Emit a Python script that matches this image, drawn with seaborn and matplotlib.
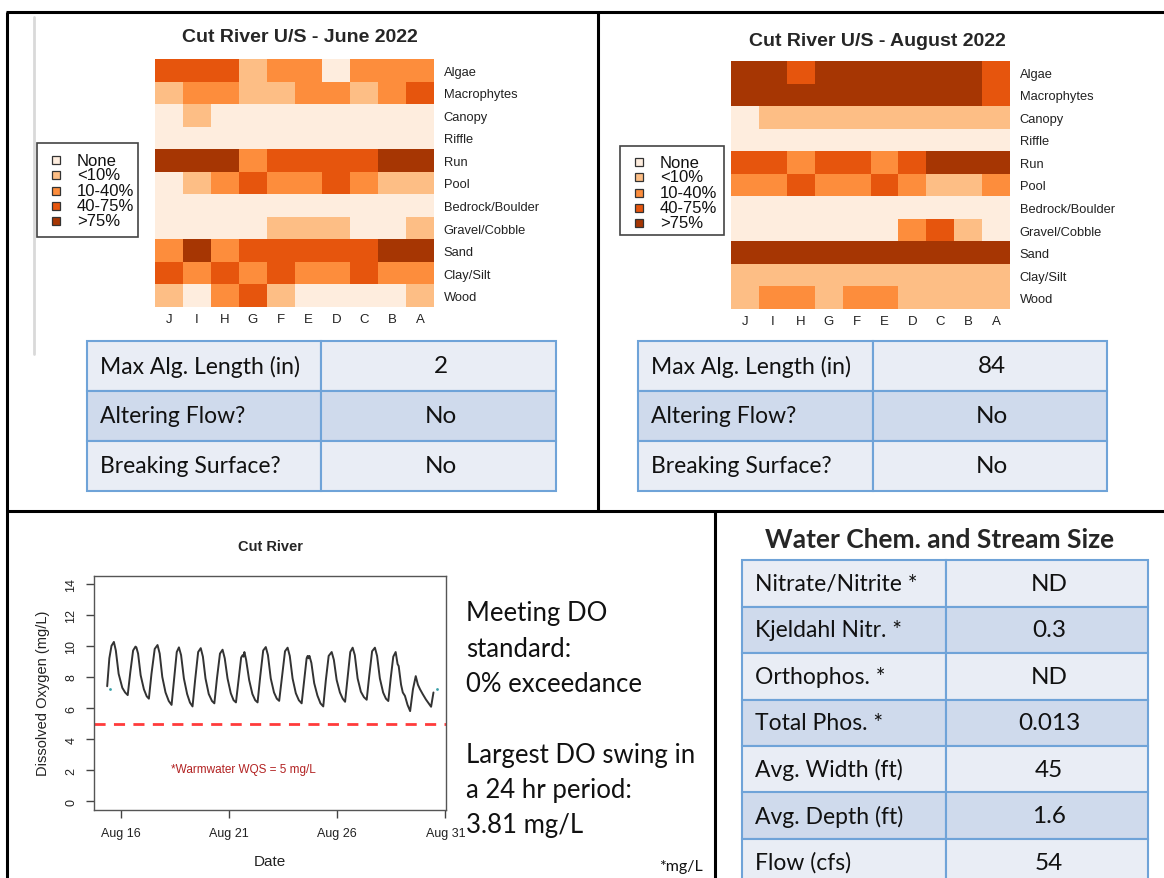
import numpy as np
import pandas as pd
import matplotlib
matplotlib.use("Agg")
import matplotlib.pyplot as plt
from matplotlib.colors import ListedColormap
from matplotlib.patches import Rectangle
import seaborn as sns

sns.set_theme(style="white")
plt.rcParams["font.family"] = ["Liberation Sans", "DejaVu Sans"]

W, H = 1164, 879
UI = "Lato"

# habitat heatmaps (0=None, 1=<10%, 2=10-40%, 3=40-75%, 4=>75%)
habitats = ["Algae", "Macrophytes", "Canopy", "Riffle", "Run", "Pool",
            "Bedrock/Boulder", "Gravel/Cobble", "Sand", "Clay/Silt", "Wood"]
sites = ["J", "I", "H", "G", "F", "E", "D", "C", "B", "A"]
levels = ["None", "<10%", "10-40%", "40-75%", ">75%"]
level_colors = ["#FEEDDE", "#FDBE85", "#FD8D3C", "#E6550D", "#A63603"]

june = [
    [3, 3, 3, 1, 2, 2, 0, 2, 2, 2],
    [1, 2, 2, 1, 1, 2, 2, 1, 2, 3],
    [0, 1, 0, 0, 0, 0, 0, 0, 0, 0],
    [0, 0, 0, 0, 0, 0, 0, 0, 0, 0],
    [4, 4, 4, 2, 3, 3, 3, 3, 4, 4],
    [0, 1, 2, 3, 2, 2, 3, 2, 1, 1],
    [0, 0, 0, 0, 0, 0, 0, 0, 0, 0],
    [0, 0, 0, 0, 1, 1, 1, 0, 0, 1],
    [2, 4, 2, 3, 3, 3, 3, 3, 4, 4],
    [3, 2, 3, 2, 3, 2, 2, 3, 2, 2],
    [1, 0, 2, 3, 1, 0, 0, 0, 0, 1],
]
august = [
    [4, 4, 3, 4, 4, 4, 4, 4, 4, 3],
    [4, 4, 4, 4, 4, 4, 4, 4, 4, 3],
    [0, 1, 1, 1, 1, 1, 1, 1, 1, 1],
    [0, 0, 0, 0, 0, 0, 0, 0, 0, 0],
    [3, 3, 2, 3, 3, 2, 3, 4, 4, 4],
    [2, 2, 3, 2, 2, 3, 2, 1, 1, 2],
    [0, 0, 0, 0, 0, 0, 0, 0, 0, 0],
    [0, 0, 0, 0, 0, 0, 2, 3, 1, 0],
    [4, 4, 4, 4, 4, 4, 4, 4, 4, 4],
    [1, 1, 1, 1, 1, 1, 1, 1, 1, 1],
    [1, 2, 2, 1, 2, 2, 1, 1, 1, 1],
]

# algae tables
alg_labels = ["Max Alg. Length (in)", "Altering Flow?", "Breaking Surface?"]
june_alg = ["2", "No", "No"]
aug_alg = ["84", "No", "No"]

# water chemistry table
chem_labels = ["Nitrate/Nitrite *", "Kjeldahl Nitr. *", "Orthophos. *", "Total Phos. *",
               "Avg. Width (ft)", "Avg. Depth (ft)", "Flow (cfs)"]
chem_values = ["ND", "0.3", "ND", "0.013", "45", "1.6", "54"]

# dissolved oxygen logger, x = day of August
do_day = [15.35, 15.45, 15.55, 15.66, 15.75, 15.88, 16.05, 16.18, 16.30,
          16.42, 16.55, 16.66, 16.70, 16.78, 16.90, 17.05, 17.18, 17.28,
          17.40, 17.55, 17.68, 17.78, 17.90, 18.05, 18.20, 18.33,
          18.45, 18.57, 18.67, 18.77, 18.90, 19.05, 19.18, 19.30,
          19.42, 19.56, 19.68, 19.78, 19.90, 20.05, 20.20, 20.31,
          20.43, 20.57, 20.69, 20.79, 20.92, 21.07, 21.20, 21.31,
          21.43, 21.55, 21.62, 21.66, 21.70, 21.78, 21.92, 22.07, 22.20, 22.31,
          22.43, 22.57, 22.69, 22.79, 22.92, 23.07, 23.20, 23.31,
          23.44, 23.58, 23.70, 23.80, 23.93, 24.08, 24.22, 24.35,
          24.47, 24.58, 24.63, 24.67, 24.71, 24.80, 24.93, 25.08, 25.22, 25.35,
          25.47, 25.60, 25.74, 25.84, 25.97, 26.12, 26.25, 26.36,
          26.48, 26.60, 26.71, 26.81, 26.94, 27.09, 27.23, 27.36,
          27.48, 27.61, 27.74, 27.84, 27.97, 28.12, 28.25, 28.36,
          28.47, 28.59, 28.70, 28.79, 28.84, 28.95, 29.03, 29.13, 29.25, 29.37,
          29.50, 29.63, 29.73, 29.83, 29.95, 30.10, 30.25, 30.34, 30.45]
do_val = [7.40, 9.20, 10.00, 10.25, 9.70, 8.20, 7.30, 7.00, 6.83,
          8.30, 9.70, 9.95, 9.90, 9.50, 8.10, 7.20, 6.75, 6.60,
          8.20, 9.80, 10.05, 9.50, 8.00, 7.00, 6.45, 6.20,
          7.90, 9.60, 9.90, 9.40, 7.90, 6.90, 6.35, 6.10,
          7.80, 9.60, 9.85, 9.30, 7.90, 6.90, 6.45, 6.30,
          7.90, 9.50, 9.75, 9.20, 7.90, 6.95, 6.50, 6.36,
          7.80, 9.25, 9.40, 9.30, 9.60, 9.10, 7.80, 6.90, 6.50, 6.36,
          8.00, 9.70, 9.92, 9.40, 7.90, 7.00, 6.60, 6.46,
          8.00, 9.65, 9.88, 9.35, 7.90, 6.95, 6.50, 6.30,
          7.80, 9.20, 9.35, 9.20, 9.35, 8.90, 7.60, 6.80, 6.30, 6.10,
          7.80, 9.35, 9.60, 9.10, 7.80, 7.00, 6.60, 6.40,
          8.00, 9.60, 9.88, 9.40, 7.90, 7.05, 6.70, 6.53,
          8.10, 9.65, 9.88, 9.35, 7.90, 7.00, 6.60, 6.45,
          7.90, 9.30, 9.60, 8.82, 8.70, 7.50, 7.00, 6.78, 6.20, 5.80,
          7.20, 8.05, 7.50, 7.20, 6.90, 6.55, 6.25, 6.08, 7.00]
dot_day = [15.48, 30.60]
dot_val = [7.25, 7.25]
wqs = 5
date_ticks = [16, 21, 26, 31]
date_labels = ["Aug 16", "Aug 21", "Aug 26", "Aug 31"]

fig = plt.figure(figsize=(W / 100, H / 100), dpi=100)


def px_axes(x0, y0, x1, y1):
    return fig.add_axes([x0 / W, 1 - y1 / H, (x1 - x0) / W, (y1 - y0) / H])


ov = fig.add_axes([0, 0, 1, 1], zorder=0)
ov.set_xlim(0, W)
ov.set_ylim(H, 0)
ov.axis("off")

# panel frame
for xs, ys in [([6, W], [13, 13]), ([7, 7], [13, H]), ([598, 598], [13, 512]),
               ([7, W], [512, 512]), ([715, 715], [512, H])]:
    ov.plot(xs, ys, color="black", lw=2.2, solid_capstyle="butt")
ov.plot([34, 34], [18, 355], color="#D9D9D9", lw=2)

# heatmaps
cmap = ListedColormap(level_colors)
for data, box, title, tx, ty in [
        (june, (155, 60, 434, 308), "Cut River U/S - June 2022", 300, 38),
        (august, (731, 62, 1010, 310), "Cut River U/S - August 2022", 877, 41)]:
    ax = px_axes(*box)
    df = pd.DataFrame(data, index=habitats, columns=sites)
    sns.heatmap(df, ax=ax, cmap=cmap, vmin=-0.5, vmax=4.5, cbar=False,
                xticklabels=True, yticklabels=True)
    ax.yaxis.tick_right()
    ax.tick_params(length=0, pad=7)
    ax.set_yticklabels(habitats, rotation=0, fontsize=9.3, color="#222222")
    ax.set_xticklabels(sites, rotation=0, fontsize=9.5, color="#222222")
    ax.tick_params(axis="x", pad=4)
    ov.text(tx, ty, title, ha="center", va="center", fontsize=14, fontweight="bold")

# legends
for x0, y0, x1, y1, ys in [(37, 144, 138, 238, [161, 176, 192, 207, 222]),
                           (620, 147, 724, 236, [163, 178, 194, 209, 224])]:
    ov.add_patch(Rectangle((x0, y0), x1 - x0, y1 - y0, fill=False, ec="#444444", lw=1.2))
    for lab, col, yy in zip(levels, level_colors, ys):
        ov.add_patch(Rectangle((x0 + 15, yy - 4), 8, 8, fc=col, ec="#333333", lw=0.9))
        ov.text(x0 + 40, yy, lab, va="center", ha="left", fontsize=12, color="#111111")

# tables
LIGHT, DARK, EDGE = "#E9EDF5", "#CFDAEC", "#6FA3D8"


def draw_table(x0, xs, x1, rows, labels, values, fs, lab_dx):
    for i, (lab, val) in enumerate(zip(labels, values)):
        ya, yb = rows[i], rows[i + 1]
        fc = DARK if i % 2 == 1 else LIGHT
        ov.add_patch(Rectangle((x0, ya), xs - x0, yb - ya, fc=fc, ec=EDGE, lw=1.5))
        ov.add_patch(Rectangle((xs, ya), x1 - xs, yb - ya, fc=fc, ec=EDGE, lw=1.5))
        ym = (ya + yb) / 2
        ov.text(x0 + lab_dx, ym, lab, va="center", ha="left", fontsize=fs,
                family=UI, color="#111111")
        ov.text((xs + x1) / 2 + 2, ym, val, va="center", ha="center", fontsize=fs + 1,
                family=UI, color="#111111")


draw_table(87, 321, 556, [342, 392, 442, 492], alg_labels, june_alg, 16.5, 13)
draw_table(638, 873, 1107, [342, 392, 442, 492], alg_labels, aug_alg, 16.5, 13)
draw_table(742, 946, 1148, [561, 607.5, 654, 700.5, 747, 793.5, 840, 886.5],
           chem_labels, chem_values, 16.5, 13)
ov.text(940, 540, "Water Chem. and Stream Size", ha="center", va="center",
        fontsize=19, fontweight="bold", family=UI)

# dissolved oxygen plot
ax = px_axes(94, 577, 446, 811)
sns.lineplot(x=do_day, y=do_val, ax=ax, color="#333333", lw=1.4, estimator=None, sort=False)
sns.scatterplot(x=dot_day, y=dot_val, ax=ax, color="#3AA0A8", s=4, linewidth=0)
ax.axhline(wqs, color="#FF3B3B", lw=2, ls=(0, (4, 3)))
ax.set_xlim(14.74, 31.03)
ax.set_ylim(-0.56, 14.49)
ax.set_xticks(date_ticks)
ax.set_xticklabels(date_labels)
ax.set_yticks(range(0, 15, 2))
ax.tick_params(axis="both", direction="out", length=6, width=1, color="#444444",
               labelsize=9, labelcolor="#222222", bottom=True, left=True)
ax.tick_params(axis="x", pad=6)
ax.tick_params(axis="y", pad=6, labelrotation=90)
for t in ax.get_yticklabels():
    t.set_va("center")
for s in ax.spines.values():
    s.set_visible(True)
    s.set_color("#555555")
    s.set_linewidth(1)
ax.set_xlabel("")
ax.set_ylabel("")
ax.text(21.63, 2.05, "*Warmwater WQS = 5 mg/L", ha="center", va="center",
        fontsize=8.5, color="#B22222")
ov.text(270, 547, "Cut River", ha="center", va="center", fontsize=10.5, fontweight="bold")
ov.text(43, 693, "Dissolved Oxygen (mg/L)", ha="center", va="center", rotation=90,
        fontsize=10.5, color="#222222")
ov.text(270, 862, "Date", ha="center", va="center", fontsize=11, color="#222222")

for txt, yy in [("Meeting DO", 614), ("standard:", 650), ("0% exceedance", 685),
                ("Largest DO swing in", 756), ("a 24 hr period:", 791), ("3.81 mg/L", 826)]:
    ov.text(466, yy, txt, ha="left", va="center", fontsize=18.5, family=UI, color="#111111")
ov.text(703, 867, "*mg/L", ha="right", va="center", fontsize=11.5, family=UI, color="#111111")

fig.savefig("out.png", dpi=100)
